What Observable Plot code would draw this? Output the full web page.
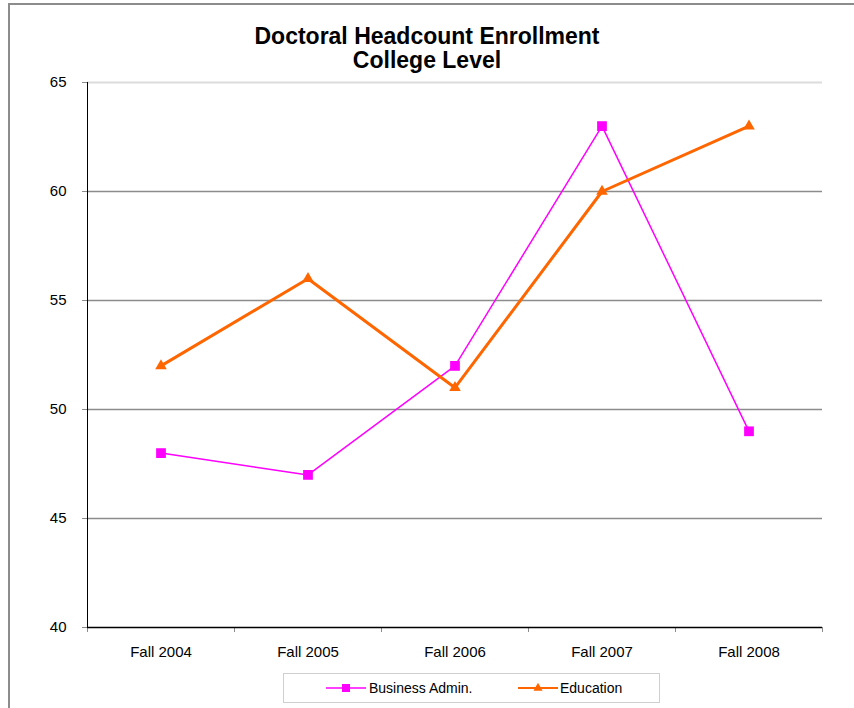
<!DOCTYPE html>
<html>
<head>
<meta charset="utf-8">
<script src="https://cdn.jsdelivr.net/npm/d3@7"></script>
<script src="https://cdn.jsdelivr.net/npm/@observablehq/plot@0.6"></script>
<style>
  body { margin: 0; background: #fff; font-family: "Liberation Sans", Arial, sans-serif; }
  #wrap { position: relative; width: 854px; height: 708px; overflow: hidden; }
  #frame { position: absolute; left: 8px; top: 3px; width: 900px; height: 800px;
           border-left: 2px solid #8c8c8c; border-top: 2px solid #8c8c8c; }
  #title { position: relative; height: 71px; box-sizing: border-box; padding-top: 25px;
           text-align: center; font-weight: bold; font-size: 23px; line-height: 23.5px; color: #000; }
  #chart { position: absolute; left: 0; top: 71px; }
  #legend { position: absolute; left: 283px; top: 673px; width: 377px; height: 30px;
            box-sizing: border-box; border: 1px solid #d0d0d0; background: #fff; }
  #legend .sw { position: absolute; top: 0; }
  #legend .lb { position: absolute; top: 0; line-height: 28px; font-size: 14px; color: #000; }
</style>
</head>
<body>
<div id="wrap">
  <div id="frame"></div>
  <div id="title">Doctoral Headcount Enrollment<br>College Level</div>
  <div id="chart"></div>
  <div id="legend"></div>
</div>
<script>
const categories = ["Fall 2004", "Fall 2005", "Fall 2006", "Fall 2007", "Fall 2008"];
const businessAdmin = [48, 47, 52, 63, 49];
const education = [52, 56, 51, 60, 63];
const yTicks = [40, 45, 50, 55, 60, 65];
const seriesNames = ["Business Admin.", "Education"];
const seriesColors = ["#FF00FF", "#FF6600"];

const data = categories.map((c, i) => ({
  i: i + 1, label: c, business: businessAdmin[i], education: education[i]
}));
const centers = categories.map((c, i) => i + 1);
const bounds = [0.5, ...categories.map((c, i) => i + 1.5)];

const chart = Plot.plot({
  width: 854,
  height: 597,
  marginTop: 11,
  marginBottom: 41,
  marginLeft: 87,
  marginRight: 32,
  style: { fontFamily: "'Liberation Sans', Arial, sans-serif", fontSize: "15px", color: "#000", background: "transparent", overflow: "visible" },
  x: { type: "linear", domain: [0.5, 5.5] },
  y: { domain: [40, 65] },
  marks: [
    Plot.ruleY(yTicks.filter(d => d > 40 && d < 65), { stroke: "#8c8c8c", strokeWidth: 1.5 }),
    Plot.ruleY([65], { stroke: "#dcdcdc", strokeWidth: 2 }),
    Plot.axisY({ ticks: yTicks, tickSize: 5, tickPadding: 16, stroke: "#8c8c8c", fill: "#000", fontSize: 15, label: null }),
    Plot.axisX({ ticks: bounds, tickSize: 5, tickFormat: () => "", stroke: "#8c8c8c", label: null }),
    Plot.axisX({ ticks: centers, tickSize: 0, tickPadding: 19, tickFormat: d => categories[Math.round(d) - 1], fill: "#000", fontSize: 15, label: null }),
    Plot.ruleX([0.5], { stroke: "#000", strokeWidth: 1 }),
    Plot.ruleY([40], { stroke: "#000", strokeWidth: 1.5 }),
    Plot.line(data, { x: "i", y: "business", stroke: seriesColors[0], strokeWidth: 1.5 }),
    Plot.dot(data, { x: "i", y: "business", symbol: "square", fill: seriesColors[0], r: 5.5 }),
    Plot.line(data, { x: "i", y: "education", stroke: seriesColors[1], strokeWidth: 3 }),
    Plot.dot(data, { x: "i", y: "education", symbol: "triangle", fill: seriesColors[1], r: 4.3 })
  ]
});
document.getElementById("chart").appendChild(chart);

// Legend
const legend = document.getElementById("legend");
const items = [
  { name: seriesNames[0], color: seriesColors[0], sym: "square", sx: 42, tx: 85, w: 1.5 },
  { name: seriesNames[1], color: seriesColors[1], sym: "triangle", sx: 234, tx: 276, w: 2 }
];
items.forEach(it => {
  const svg = d3.create("svg").attr("class", "sw").attr("width", 40).attr("height", 28)
    .style("left", it.sx + "px");
  svg.append("line").attr("x1", 0).attr("x2", 40).attr("y1", 14).attr("y2", 14)
    .attr("stroke", it.color).attr("stroke-width", it.w);
  const sym = it.sym === "square" ? d3.symbolSquare : d3.symbolTriangle;
  svg.append("path").attr("d", d3.symbol(sym, it.sym === "square" ? 64 : 36)())
    .attr("transform", "translate(20,14)").attr("fill", it.color);
  legend.appendChild(svg.node());
  const lb = document.createElement("span");
  lb.className = "lb";
  lb.style.left = it.tx + "px";
  lb.textContent = it.name;
  legend.appendChild(lb);
});
</script>
</body>
</html>
